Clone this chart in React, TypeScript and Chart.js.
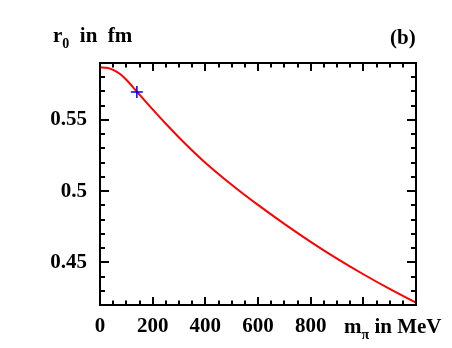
import React, { useEffect, useRef } from "react";
import { Chart, registerables } from "chart.js";

Chart.register(...registerables);

// pion mass in MeV
const mPi = [0, 25, 50, 75, 100, 125, 150, 200, 250, 300, 350, 400, 500, 600, 700, 800, 900, 1000, 1100, 1200];
// r0 in fm
const r0 = [0.587, 0.5866, 0.5852, 0.5824, 0.5782, 0.5731, 0.5678, 0.5574, 0.5473, 0.5377, 0.5286, 0.52, 0.5045, 0.4903, 0.477, 0.4644, 0.4526, 0.4416, 0.4313, 0.4216];
// physical point marker
const markerX = [140];
const markerY = [0.5697];

const xMajorTicks = [0, 200, 400, 600, 800, 1000, 1200];
const xTickLabels = ["0", "200", "400", "600", "800", "", ""];
const yMajorTicks = [0.45, 0.5, 0.55];
const yTickLabels = ["0.45", "0.5", "0.55"];
const xMin = 0, xMax = 1200, xMinorStep = 50;
const yMin = 0.42, yMax = 0.59, yMinorStep = 0.01;

const FONT = '"Liberation Serif", "Times New Roman", serif';

const framePlugin = {
  id: "frameTicks",
  afterDraw(chart: any) {
    const { ctx, chartArea } = chart;
    const { left, right, top, bottom } = chartArea;
    const xs = chart.scales.x;
    const ys = chart.scales.y;
    ctx.save();
    ctx.strokeStyle = "#000";
    ctx.lineWidth = 2;
    ctx.beginPath();
    ctx.rect(left, top, right - left, bottom - top);
    ctx.stroke();
    ctx.lineWidth = 2;
    ctx.beginPath();
    const nx = Math.round((xMax - xMin) / xMinorStep);
    for (let i = 0; i <= nx; i++) {
      const v = xMin + i * xMinorStep;
      const major = Math.abs(v % 200) < 1e-6;
      const len = major ? 8 : 4.5;
      const px = Math.round(xs.getPixelForValue(v));
      ctx.moveTo(px, bottom);
      ctx.lineTo(px, bottom - len);
      ctx.moveTo(px, top);
      ctx.lineTo(px, top + len);
    }
    const ny = Math.round((yMax - yMin) / yMinorStep);
    for (let i = 0; i <= ny; i++) {
      const v = yMin + i * yMinorStep;
      const major = yMajorTicks.some((t) => Math.abs(t - v) < 1e-6);
      const len = major ? 9 : 5;
      const py = Math.round(ys.getPixelForValue(v));
      ctx.moveTo(left, py);
      ctx.lineTo(left + len, py);
      ctx.moveTo(right, py);
      ctx.lineTo(right - len, py);
    }
    ctx.stroke();
    ctx.restore();
  },
};

export default function App() {
  const canvasRef = useRef<HTMLCanvasElement | null>(null);

  useEffect(() => {
    document.body.style.margin = "0";
    const canvas = canvasRef.current;
    if (!canvas) return;
    const chart = new Chart(canvas, {
      type: "line",
      data: {
        datasets: [
          {
            type: "scatter",
            data: markerX.map((x, i) => ({ x, y: markerY[i] })),
            pointStyle: "cross",
            pointRadius: 6,
            borderColor: "#0000ff",
            backgroundColor: "#0000ff",
            borderWidth: 1.5,
            showLine: false,
            order: 0,
          } as any,
          {
            type: "line",
            data: mPi.map((x, i) => ({ x, y: r0[i] })),
            borderColor: "#ff0000",
            borderWidth: 2,
            pointRadius: 0,
            fill: false,
            cubicInterpolationMode: "monotone",
            order: 1,
          } as any,
        ],
      },
      options: {
        animation: false,
        responsive: false,
        events: [],
        layout: { padding: { top: 63, right: 36, left: 0, bottom: 0 } },
        plugins: { legend: { display: false }, tooltip: { enabled: false } },
        scales: {
          x: {
            type: "linear",
            min: xMin,
            max: xMax,
            grid: { display: false, drawTicks: false },
            border: { display: false },
            afterBuildTicks: (s: any) => {
              s.ticks = xMajorTicks.map((v) => ({ value: v }));
            },
            afterFit: (s: any) => {
              s.height = 43;
            },
            ticks: {
              padding: 9,
              maxRotation: 0,
              autoSkip: false,
              color: "#000",
              font: { family: FONT, size: 21, weight: "bold" },
              callback: (v: any) => {
                const i = xMajorTicks.indexOf(Number(v));
                return i >= 0 ? xTickLabels[i] : "";
              },
            },
          },
          y: {
            type: "linear",
            min: yMin,
            max: yMax,
            grid: { display: false, drawTicks: false },
            border: { display: false },
            afterBuildTicks: (s: any) => {
              s.ticks = yMajorTicks.map((v) => ({ value: v }));
            },
            afterFit: (s: any) => {
              s.width = 100;
            },
            ticks: {
              padding: 13,
              autoSkip: false,
              color: "#000",
              font: { family: FONT, size: 21, weight: "bold" },
              callback: (v: any) => {
                const i = yMajorTicks.findIndex((t) => Math.abs(t - Number(v)) < 1e-6);
                return i >= 0 ? yTickLabels[i] : "";
              },
            },
          },
        },
      },
      plugins: [framePlugin],
    });
    return () => chart.destroy();
  }, []);

  const textStyle: React.CSSProperties = {
    position: "absolute",
    fontFamily: FONT,
    fontWeight: "bold",
    fontSize: "21px",
    lineHeight: "21px",
    whiteSpace: "pre",
    color: "#000",
  };

  return (
    <div style={{ position: "relative", width: 452, height: 348 }}>
      <canvas ref={canvasRef} width={452} height={348} style={{ display: "block" }} />
      <div style={{ ...textStyle, left: 53, top: 25 }}>
        r<span style={{ fontSize: "14px", position: "relative", top: "5.5px" }}>0</span>  in  fm
      </div>
      <div style={{ ...textStyle, left: 390, top: 26.5 }}>(b)</div>
      <div style={{ ...textStyle, left: 344, top: 315.5 }}>
        m<span style={{ fontSize: "14px", position: "relative", top: "6px" }}>π</span> in MeV
      </div>
    </div>
  );
}
